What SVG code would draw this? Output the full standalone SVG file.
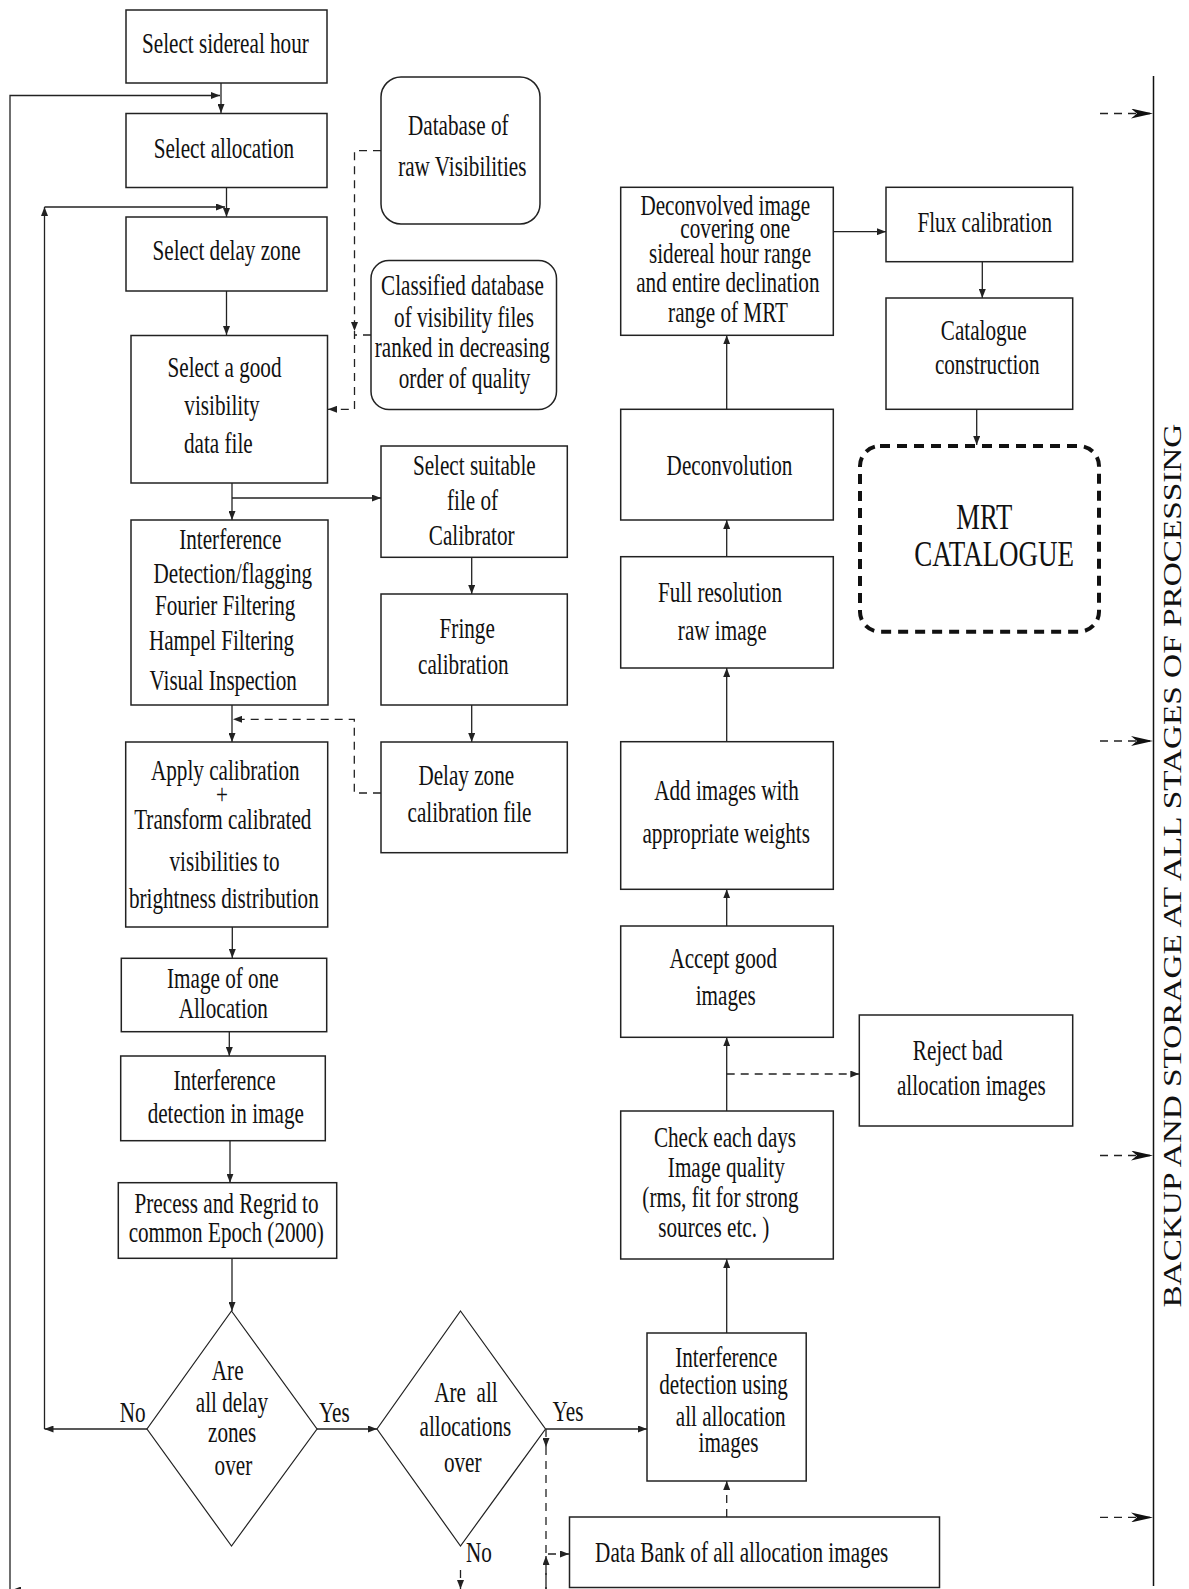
<svg xmlns="http://www.w3.org/2000/svg" width="1189" height="1589" viewBox="0 0 1189 1589">
<style>
.bg{fill:#fff}
.box{fill:#fff;stroke:#222;stroke-width:1.5}
.ln{fill:none;stroke:#222;stroke-width:1.3}
.ds{fill:none;stroke:#222;stroke-width:1.3;stroke-dasharray:8 6}
.t{font-family:"Liberation Serif","Times New Roman",serif;font-size:29px;fill:#111;text-anchor:middle}
.big{font-size:36px}
</style>
<defs>
<marker id="ah" markerUnits="userSpaceOnUse" markerWidth="9" markerHeight="7" refX="9" refY="3.5" orient="auto"><path d="M0,0 L9,3.5 L0,7 z" fill="#222"/></marker>
<marker id="ahb" markerUnits="userSpaceOnUse" markerWidth="22" markerHeight="10" refX="22" refY="5" orient="auto"><path d="M0,0 L22,5 L0,10 L6,5 z" fill="#111"/></marker>
</defs>
<rect class="bg" x="0" y="0" width="1189" height="1589"/>

<g id="connectors">
<path class="ln" d="M221,83 V113" marker-end="url(#ah)"/>
<path class="ln" d="M10,1589 V95.5 H220" marker-end="url(#ah)"/>
<path class="ln" d="M226.5,187.5 V217" marker-end="url(#ah)"/>
<path class="ln" d="M44.5,1429 V207" marker-end="url(#ah)"/>
<path class="ln" d="M44.5,207 H225" marker-end="url(#ah)"/>
<path class="ln" d="M226.5,291 V335" marker-end="url(#ah)"/>
<path class="ds" d="M381,150.7 H354.5 V331" marker-end="url(#ah)"/>
<path class="ds" d="M354.5,331 V409.3 H328" marker-end="url(#ah)"/>
<path class="ds" d="M371,335 H354.5"/>
<path class="ln" d="M232,483 V520" marker-end="url(#ah)"/>
<path class="ln" d="M232,498 H381" marker-end="url(#ah)"/>
<path class="ln" d="M471.7,557.3 V594" marker-end="url(#ah)"/>
<path class="ln" d="M471.7,705 V742" marker-end="url(#ah)"/>
<path class="ln" d="M232,705 V742" marker-end="url(#ah)"/>
<path class="ds" d="M381,793 H354.3 V719.3 H233" marker-end="url(#ah)"/>
<path class="ln" d="M232.3,927 V958" marker-end="url(#ah)"/>
<path class="ln" d="M229.3,1031.7 V1056" marker-end="url(#ah)"/>
<path class="ln" d="M230,1140.7 V1182.7" marker-end="url(#ah)"/>
<path class="ln" d="M232,1258.3 V1311" marker-end="url(#ah)"/>
<path class="ln" d="M147,1429 H44.5" marker-end="url(#ah)"/>
<path class="ln" d="M317,1429 H377" marker-end="url(#ah)"/>
<path class="ln" d="M545.5,1429 H647" marker-end="url(#ah)"/>
<path class="ds" d="M546,1429 V1447" marker-end="url(#ah)"/>
<path class="ds" d="M546,1447 V1589"/>
<path class="ds" d="M546,1589 V1556" marker-end="url(#ah)"/>
<path class="ds" d="M548,1554 H569" marker-end="url(#ah)"/>
<path class="ds" d="M460.5,1570 V1589" marker-end="url(#ah)"/>
<path class="ln" d="M460,1590 H12" marker-end="url(#ah)"/>
<path class="ds" d="M726.7,1517 V1481" marker-end="url(#ah)"/>
<path class="ln" d="M726.7,1333 V1259" marker-end="url(#ah)"/>
<path class="ln" d="M726.7,1111 V1037.3" marker-end="url(#ah)"/>
<path class="ds" d="M726.7,1074 H859.3" marker-end="url(#ah)"/>
<path class="ln" d="M726.7,926 V889.3" marker-end="url(#ah)"/>
<path class="ln" d="M726.7,741.7 V668" marker-end="url(#ah)"/>
<path class="ln" d="M726.7,556.7 V520" marker-end="url(#ah)"/>
<path class="ln" d="M726.7,409.3 V335.3" marker-end="url(#ah)"/>
<path class="ln" d="M833.3,231.7 H886" marker-end="url(#ah)"/>
<path class="ln" d="M982.3,261.7 V298" marker-end="url(#ah)"/>
<path class="ln" d="M976.7,409.3 V445" marker-end="url(#ah)"/>
<path class="ln" d="M1153.5,76 V1586" style="stroke:#111;stroke-width:1.5"/>
<path class="ds" d="M1100,113.5 H1153" marker-end="url(#ahb)"/>
<path class="ds" d="M1100,741 H1153" marker-end="url(#ahb)"/>
<path class="ds" d="M1100,1155.5 H1153" marker-end="url(#ahb)"/>
<path class="ds" d="M1100,1517.4 H1153" marker-end="url(#ahb)"/>
</g>

<g id="n1"><rect class="box" x="126" y="10" width="201" height="73"/>
<text class="t" transform="translate(225.4 53.3) scale(0.73 1)">Select sidereal hour</text></g>
<g id="n2"><rect class="box" x="126" y="113.5" width="201" height="74"/>
<text class="t" transform="translate(223.9 158.3) scale(0.73 1)">Select allocation</text></g>
<g id="n3"><rect class="box" x="126" y="217" width="201" height="74"/>
<text class="t" transform="translate(226.6 260) scale(0.73 1)">Select delay zone</text></g>
<g id="n4"><rect class="box" x="131" y="335.5" width="196.5" height="147.5"/>
<text class="t" transform="translate(224.5 376.7) scale(0.73 1)">Select a good</text>
<text class="t" transform="translate(222 415) scale(0.73 1)">visibility</text>
<text class="t" transform="translate(218.3 452.7) scale(0.73 1)">data file</text></g>
<g id="n5"><rect class="box" x="131" y="520" width="197" height="185"/>
<text class="t" transform="translate(230.3 549.3) scale(0.73 1)">Interference</text>
<text class="t" transform="translate(232.8 582.7) scale(0.73 1)">Detection/flagging</text>
<text class="t" transform="translate(225.2 615) scale(0.73 1)">Fourier Filtering</text>
<text class="t" transform="translate(221.5 650) scale(0.73 1)">Hampel Filtering</text>
<text class="t" transform="translate(223.2 690) scale(0.73 1)">Visual Inspection</text></g>
<g id="n6"><rect class="box" x="125.7" y="742" width="202" height="185"/>
<text class="t" transform="translate(225.3 780) scale(0.73 1)">Apply calibration</text>
<text class="t" transform="translate(222 804) scale(0.73 1)">+</text>
<text class="t" transform="translate(222.8 829.3) scale(0.73 1)">Transform calibrated</text>
<text class="t" transform="translate(224.5 870.7) scale(0.73 1)">visibilities to</text>
<text class="t" transform="translate(223.8 908.3) scale(0.73 1)">brightness distribution</text></g>
<g id="n7"><rect class="box" x="121.3" y="958.3" width="205.4" height="73.4"/>
<text class="t" transform="translate(222.8 988.3) scale(0.73 1)">Image of one</text>
<text class="t" transform="translate(223.3 1018.3) scale(0.73 1)">Allocation</text></g>
<g id="n8"><rect class="box" x="120.7" y="1056" width="204.6" height="84.7"/>
<text class="t" transform="translate(224.5 1090) scale(0.73 1)">Interference</text>
<text class="t" transform="translate(225.8 1123.3) scale(0.73 1)">detection in image</text></g>
<g id="n9"><rect class="box" x="118.3" y="1182.7" width="218.4" height="75.6"/>
<text class="t" transform="translate(226.5 1213.3) scale(0.73 1)">Precess and Regrid to</text>
<text class="t" transform="translate(226.2 1241.7) scale(0.73 1)">common Epoch (2000)</text></g>
<g id="d1"><path class="box" d="M231.5,1311 L317,1429 L231.5,1546 L147,1429 z" style="stroke-width:1.2"/>
<text class="t" transform="translate(227.7 1380) scale(0.73 1)">Are</text>
<text class="t" transform="translate(231.9 1412) scale(0.73 1)">all delay</text>
<text class="t" transform="translate(232.1 1442.3) scale(0.73 1)">zones</text>
<text class="t" transform="translate(233.4 1475) scale(0.73 1)">over</text></g>
<g id="lbl-no1"><text class="t" transform="translate(132.6 1421.7) scale(0.73 1)">No</text></g>
<g id="lbl-yes1"><text class="t" transform="translate(334.3 1421.7) scale(0.73 1)">Yes</text></g>
<g id="d2"><path class="box" d="M460.5,1311 L545.5,1429 L460.5,1546 L377,1429 z" style="stroke-width:1.2"/>
<text class="t" transform="translate(466 1401.7) scale(0.73 1)">Are&#160; all</text>
<text class="t" transform="translate(465.4 1435.7) scale(0.73 1)">allocations</text>
<text class="t" transform="translate(462.7 1471.7) scale(0.73 1)">over</text></g>
<g id="lbl-yes2"><text class="t" transform="translate(568 1420.7) scale(0.73 1)">Yes</text></g>
<g id="lbl-no2"><text class="t" transform="translate(479 1561.7) scale(0.73 1)">No</text></g>
<g id="n10"><rect class="box" x="381" y="77" width="159" height="147" rx="20"/>
<text class="t" transform="translate(458.3 135) scale(0.73 1)">Database of</text>
<text class="t" transform="translate(462.3 176) scale(0.73 1)">raw Visibilities</text></g>
<g id="n11"><rect class="box" x="371" y="260.5" width="185.5" height="149" rx="18"/>
<text class="t" transform="translate(462.5 295) scale(0.73 1)">Classified database</text>
<text class="t" transform="translate(464 326.7) scale(0.73 1)">of visibility files</text>
<text class="t" transform="translate(462.3 356.7) scale(0.73 1)">ranked in decreasing</text>
<text class="t" transform="translate(464.6 387.7) scale(0.73 1)">order of quality</text></g>
<g id="n12"><rect class="box" x="381" y="446" width="186.3" height="111.3"/>
<text class="t" transform="translate(474.3 475) scale(0.73 1)">Select suitable</text>
<text class="t" transform="translate(472.5 510) scale(0.73 1)">file of</text>
<text class="t" transform="translate(471.7 545) scale(0.73 1)">Calibrator</text></g>
<g id="n13"><rect class="box" x="381" y="594" width="186.3" height="111"/>
<text class="t" transform="translate(467.2 638.3) scale(0.73 1)">Fringe</text>
<text class="t" transform="translate(463.3 674.3) scale(0.73 1)">calibration</text></g>
<g id="n14"><rect class="box" x="381" y="742" width="186.3" height="110.7"/>
<text class="t" transform="translate(466.3 785) scale(0.73 1)">Delay zone</text>
<text class="t" transform="translate(469.5 821.7) scale(0.73 1)">calibration file</text></g>
<g id="n15"><rect class="box" x="647" y="1333" width="159.2" height="148"/>
<text class="t" transform="translate(726.3 1367.3) scale(0.73 1)">Interference</text>
<text class="t" transform="translate(723.6 1394) scale(0.73 1)">detection using</text>
<text class="t" transform="translate(730.7 1426) scale(0.73 1)">all allocation</text>
<text class="t" transform="translate(728.5 1451.7) scale(0.73 1)">images</text></g>
<g id="n16"><rect class="box" x="569.5" y="1517" width="370" height="70.5"/>
<text class="t" transform="translate(741.7 1561.7) scale(0.73 1)">Data Bank of all allocation images</text></g>
<g id="n17"><rect class="box" x="620.7" y="1111" width="212.6" height="148"/>
<text class="t" transform="translate(725 1146.7) scale(0.73 1)">Check each days</text>
<text class="t" transform="translate(726.3 1176.7) scale(0.73 1)">Image quality</text>
<text class="t" transform="translate(720.5 1206.7) scale(0.73 1)">(rms, fit for strong</text>
<text class="t" transform="translate(713.8 1236.7) scale(0.73 1)">sources etc. )</text></g>
<g id="n18"><rect class="box" x="859.3" y="1015" width="213.4" height="111"/>
<text class="t" transform="translate(957.7 1060) scale(0.73 1)">Reject bad</text>
<text class="t" transform="translate(971.3 1095) scale(0.73 1)">allocation images</text></g>
<g id="n19"><rect class="box" x="620.7" y="926" width="212.6" height="111.3"/>
<text class="t" transform="translate(723.2 968.3) scale(0.73 1)">Accept good</text>
<text class="t" transform="translate(725.7 1005) scale(0.73 1)">images</text></g>
<g id="n20"><rect class="box" x="620.7" y="741.7" width="212.6" height="147.6"/>
<text class="t" transform="translate(726.5 800) scale(0.73 1)">Add images with</text>
<text class="t" transform="translate(726.2 843.3) scale(0.73 1)">appropriate weights</text></g>
<g id="n21"><rect class="box" x="620.7" y="556.7" width="212.6" height="111.3"/>
<text class="t" transform="translate(720 601.7) scale(0.73 1)">Full resolution</text>
<text class="t" transform="translate(722.2 640) scale(0.73 1)">raw image</text></g>
<g id="n22"><rect class="box" x="620.7" y="409.3" width="212.6" height="110.7"/>
<text class="t" transform="translate(729.5 475) scale(0.73 1)">Deconvolution</text></g>
<g id="n23"><rect class="box" x="620.7" y="187.3" width="212.6" height="148"/>
<text class="t" transform="translate(725.3 215) scale(0.73 1)">Deconvolved image</text>
<text class="t" transform="translate(735.3 238.3) scale(0.73 1)">covering one</text>
<text class="t" transform="translate(730 263.3) scale(0.73 1)">sidereal hour range</text>
<text class="t" transform="translate(727.8 291.7) scale(0.73 1)">and entire declination</text>
<text class="t" transform="translate(728 321.7) scale(0.73 1)">range of MRT</text></g>
<g id="n24"><rect class="box" x="886" y="187.3" width="186.7" height="74.4"/>
<text class="t" transform="translate(984.7 231.7) scale(0.73 1)">Flux calibration</text></g>
<g id="n25"><rect class="box" x="886" y="298" width="186.7" height="111.3"/>
<text class="t" transform="translate(983.7 340) scale(0.73 1)">Catalogue</text>
<text class="t" transform="translate(987.2 374) scale(0.73 1)">construction</text></g>
<g id="n26"><rect x="860" y="446" width="239" height="185.7" rx="20" style="fill:none;stroke:#111;stroke-width:4;stroke-dasharray:10 7"/>
<text class="t big" transform="translate(984.3 528.5) scale(0.74 1)">MRT</text>
<text class="t big" transform="translate(994.2 566) scale(0.75 1)">CATALOGUE</text></g>
<g id="backup"><text class="t" style="font-size:25px" transform="translate(1181 865.6) rotate(-90)" textLength="884" lengthAdjust="spacingAndGlyphs">BACKUP AND STORAGE AT ALL STAGES OF PROCESSING</text></g>
</svg>
